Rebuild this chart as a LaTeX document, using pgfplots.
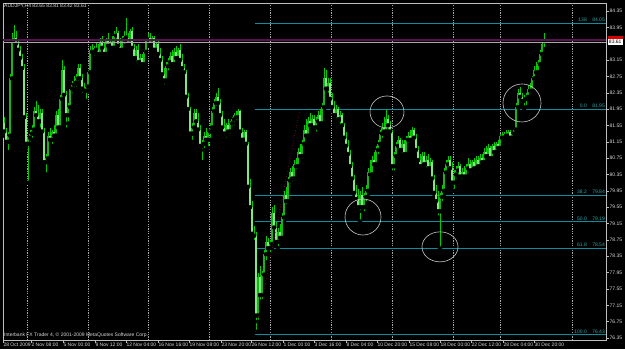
\documentclass[border=0pt]{standalone}
\usepackage{pgfplots}
\usepackage{pgfplotstable}
\pgfplotsset{compat=1.18}
\usepackage{fontspec}
\setmainfont{Liberation Sans}
\definecolor{wickc}{HTML}{00CC00}
\definecolor{bullc}{HTML}{18B418}
\definecolor{bearc}{HTML}{7EEA7E}
\definecolor{fibc}{HTML}{0E8E9C}
\definecolor{fibt}{HTML}{2AA6AA}
\definecolor{framec}{HTML}{BEBEBE}
\definecolor{txtc}{HTML}{DADADA}
\definecolor{magc}{HTML}{581450}
\definecolor{circc}{HTML}{C8C8C8}
\definecolor{trendc}{HTML}{B01030}
\tikzset{fl/.style={anchor=base east, inner sep=0pt, text=fibt, font=\fontsize{5}{6}\selectfont}}
\pgfplotstableread{
i o h l c
1 81.95 82.05 81.55 81.60
2 81.60 81.75 81.30 81.40
3 81.40 81.50 81.05 81.15
4 81.15 81.40 80.90 81.30
5 81.30 82.80 81.25 82.70
6 82.70 83.80 82.60 83.60
7 83.60 84.00 83.45 83.70
8 83.70 83.85 83.50 83.55
9 83.55 83.65 83.30 83.40
10 83.40 83.50 83.10 83.20
11 83.20 83.30 82.90 82.95
12 82.95 83.05 81.70 81.75
13 81.75 81.85 81.00 81.10
14 81.10 81.30 80.15 81.25
15 81.25 81.45 81.10 81.35
16 81.35 81.55 81.20 81.45
17 81.45 82.00 81.35 81.90
18 81.90 82.15 81.70 81.80
19 81.80 82.05 81.55 81.65
20 81.65 81.95 81.45 81.85
21 81.85 81.95 81.35 81.40
22 81.40 81.50 80.55 80.65
23 80.65 80.85 80.35 80.75
24 80.75 81.40 80.70 81.30
25 81.30 81.50 81.10 81.20
26 81.20 81.45 81.05 81.40
27 81.40 81.55 81.20 81.30
28 81.30 81.90 81.25 81.80
29 81.80 81.95 81.40 81.50
30 81.50 82.30 81.45 82.20
31 82.20 83.15 82.10 82.90
32 82.90 83.00 82.20 82.30
33 82.30 82.40 81.45 81.80
34 81.80 82.10 81.60 82.00
35 82.00 82.50 81.90 82.45
36 82.45 82.65 82.30 82.55
37 82.55 82.75 82.40 82.60
38 82.60 82.80 82.45 82.70
39 82.70 83.05 82.55 82.95
40 82.95 83.05 82.60 82.70
41 82.70 82.80 82.30 82.45
42 82.45 82.60 82.30 82.40
43 82.40 82.55 82.15 82.50
44 82.50 82.90 82.40 82.85
45 82.85 83.50 82.80 83.40
46 83.40 83.55 83.25 83.35
47 83.35 83.50 83.20 83.45
48 83.45 83.60 83.30 83.40
49 83.40 83.55 83.25 83.30
50 83.30 83.70 83.20 83.60
51 83.60 83.75 83.35 83.45
52 83.45 83.60 83.20 83.30
53 83.30 83.70 83.25 83.65
54 83.65 83.80 83.45 83.50
55 83.50 83.65 83.35 83.60
56 83.60 83.75 83.40 83.45
57 83.45 83.85 83.40 83.75
58 83.75 83.95 83.60 83.80
59 83.80 83.85 83.45 83.50
60 83.50 83.70 83.30 83.40
61 83.40 83.75 83.35 83.65
62 83.65 83.85 83.50 83.75
63 83.75 84.18 83.60 83.70
64 83.70 83.80 83.45 83.55
65 83.55 83.90 83.50 83.85
66 83.85 83.95 83.35 83.45
67 83.45 83.55 83.15 83.20
68 83.20 83.50 83.05 83.40
69 83.40 83.55 83.00 83.10
70 83.10 83.30 82.95 83.20
71 83.20 83.30 82.95 83.05
72 83.05 83.40 83.00 83.35
73 83.35 83.70 83.30 83.65
74 83.65 83.80 83.50 83.70
75 83.70 83.80 83.50 83.55
76 83.55 83.75 83.45 83.70
77 83.70 83.75 83.35 83.40
78 83.40 83.60 83.30 83.55
79 83.55 83.65 83.25 83.30
80 83.30 83.45 83.05 83.15
81 83.15 83.25 82.70 82.80
82 82.80 82.95 82.50 82.65
83 82.65 83.10 82.60 83.00
84 83.00 83.20 82.85 83.10
85 83.10 83.35 83.00 83.25
86 83.25 83.40 82.95 83.05
87 83.05 83.45 83.00 83.35
88 83.35 83.50 83.15 83.20
89 83.20 83.45 83.05 83.40
90 83.40 83.55 83.10 83.15
91 83.15 83.30 82.85 82.95
92 82.95 83.05 82.75 82.85
93 82.85 82.90 82.20 82.25
94 82.25 82.35 81.85 81.95
95 81.95 82.00 81.25 81.35
96 81.35 81.60 81.15 81.50
97 81.50 81.95 81.45 81.85
98 81.85 81.95 81.55 81.65
99 81.65 81.85 81.35 81.45
100 81.45 81.55 80.95 81.05
101 81.05 81.20 80.65 81.10
102 81.10 81.40 80.95 81.30
103 81.30 81.50 81.10 81.20
104 81.20 81.45 81.00 81.40
105 81.40 81.60 81.20 81.50
106 81.50 82.00 81.45 81.90
107 81.90 82.20 81.80 82.10
108 82.10 82.35 81.95 82.25
109 82.25 82.47 82.00 82.10
110 82.10 82.20 81.70 81.80
111 81.80 81.90 81.40 81.50
112 81.50 81.70 81.25 81.35
113 81.35 81.60 81.20 81.55
114 81.55 81.70 81.30 81.40
115 81.40 81.65 81.30 81.60
116 81.60 81.75 81.45 81.70
117 81.70 81.85 81.50 81.80
118 81.80 81.90 81.60 81.75
119 81.75 81.95 81.65 81.90
120 81.90 81.92 81.35 81.40
121 81.40 81.50 81.10 81.20
122 81.20 81.45 81.10 81.40
123 81.40 81.45 81.05 81.10
124 81.10 81.15 79.95 80.05
125 80.05 80.25 79.45 79.55
126 79.55 79.70 78.80 78.90
127 78.90 79.10 78.70 78.85
128 78.85 78.95 76.50 76.90
129 76.90 77.95 76.75 77.85
130 77.85 78.10 77.20 77.40
131 77.40 78.00 77.25 77.90
132 77.90 78.50 77.80 78.40
133 78.40 78.85 78.20 78.70
134 78.70 78.80 78.45 78.55
135 78.55 78.75 78.40 78.65
136 78.65 79.55 78.55 79.40
137 79.40 79.60 78.95 79.05
138 79.05 79.20 78.60 78.70
139 78.70 79.05 78.55 78.95
140 78.95 79.15 78.70 78.80
141 78.80 79.40 78.75 79.30
142 79.30 79.95 79.20 79.85
143 79.85 80.05 79.55 79.70
144 79.70 80.30 79.60 80.20
145 80.20 80.50 80.00 80.40
146 80.40 80.55 80.10 80.25
147 80.25 80.70 80.15 80.60
148 80.60 80.75 80.40 80.55
149 80.55 81.00 80.45 80.90
150 80.90 81.10 80.70 80.80
151 80.80 81.20 80.70 81.10
152 81.10 81.55 81.00 81.45
153 81.45 81.70 81.20 81.30
154 81.30 81.75 81.25 81.65
155 81.65 81.85 81.45 81.55
156 81.55 81.80 81.40 81.70
157 81.70 81.80 81.45 81.50
158 81.50 81.75 81.35 81.65
159 81.65 81.90 81.55 81.80
160 81.80 81.95 81.55 81.60
161 81.60 82.10 81.55 82.00
162 82.00 82.95 81.95 82.70
163 82.70 82.90 82.35 82.45
164 82.45 82.70 82.30 82.60
165 82.60 82.70 82.10 82.20
166 82.20 82.35 81.90 82.00
167 82.00 82.15 81.70 81.80
168 81.80 82.05 81.65 81.95
169 81.95 82.00 81.60 81.70
170 81.70 81.90 81.50 81.80
171 81.80 81.85 81.45 81.55
172 81.55 81.60 81.15 81.25
173 81.25 81.40 80.95 81.05
174 81.05 81.20 80.75 80.85
175 80.85 80.95 80.45 80.55
176 80.55 80.65 80.20 80.25
177 80.25 80.35 79.80 79.90
178 79.90 80.10 79.65 79.75
179 79.75 80.00 79.45 79.55
180 79.55 79.95 79.20 79.85
181 79.85 80.05 79.45 79.55
182 79.55 79.90 79.40 79.80
183 79.80 80.10 79.65 79.95
184 79.95 80.50 79.85 80.40
185 80.40 80.70 80.25 80.35
186 80.35 80.80 80.30 80.70
187 80.70 80.90 80.50 80.60
188 80.60 81.05 80.55 80.95
189 80.95 81.20 80.80 81.10
190 81.10 81.45 81.00 81.35
191 81.35 81.60 81.20 81.50
192 81.50 81.75 81.35 81.40
193 81.40 81.93 81.35 81.70
194 81.70 81.80 81.40 81.55
195 81.55 81.65 81.30 81.40
196 81.40 81.45 80.40 80.55
197 80.55 80.90 80.40 80.80
198 80.80 81.15 80.70 81.05
199 81.05 81.30 80.90 81.20
200 81.20 81.25 80.85 80.95
201 80.95 81.20 80.80 81.10
202 81.10 81.20 80.75 80.85
203 80.85 81.30 80.80 81.20
204 81.20 81.40 81.05 81.30
205 81.30 81.45 81.10 81.20
206 81.20 81.52 81.15 81.45
207 81.45 81.50 81.15 81.25
208 81.25 81.35 80.85 80.95
209 80.95 81.05 80.60 80.70
210 80.70 80.85 80.45 80.55
211 80.55 80.90 80.45 80.80
212 80.80 80.90 80.50 80.60
213 80.60 80.80 80.40 80.70
214 80.70 80.85 80.45 80.50
215 80.50 80.75 80.40 80.65
216 80.65 80.70 80.15 80.25
217 80.25 80.35 79.80 79.90
218 79.90 80.10 79.60 79.70
219 79.70 79.95 79.30 79.45
220 79.45 79.90 78.54 79.80
221 79.80 80.10 79.65 79.95
222 79.95 80.50 79.85 80.40
223 80.40 80.70 80.30 80.60
224 80.60 80.80 80.45 80.70
225 80.70 80.80 80.40 80.50
226 80.50 80.65 80.05 80.15
227 80.15 80.45 79.95 80.35
228 80.35 80.55 80.20 80.45
229 80.45 80.65 80.30 80.55
230 80.55 80.60 80.20 80.30
231 80.30 80.50 80.15 80.40
232 80.40 80.55 80.20 80.30
233 80.30 80.60 80.25 80.50
234 80.50 80.75 80.35 80.60
235 80.60 80.70 80.35 80.45
236 80.45 80.70 80.40 80.65
237 80.65 80.75 80.40 80.50
238 80.50 80.80 80.45 80.70
239 80.70 80.80 80.50 80.55
240 80.55 80.85 80.45 80.75
241 80.75 80.85 80.55 80.65
242 80.65 81.00 80.60 80.90
243 80.90 81.05 80.70 80.80
244 80.80 81.10 80.70 81.00
245 81.00 81.05 80.70 80.75
246 80.75 81.10 80.70 81.05
247 81.05 81.15 80.80 80.90
248 80.90 81.15 80.85 81.10
249 81.10 81.20 80.90 81.00
250 81.00 81.35 80.95 81.30
251 81.30 81.40 81.15 81.25
252 81.25 81.40 81.15 81.35
253 81.35 81.45 81.20 81.30
254 81.30 81.45 81.25 81.40
255 81.40 81.45 81.20 81.25
256 81.25 81.40 81.20 81.35
257 81.35 81.50 81.30 81.45
258 81.45 82.10 81.40 82.00
259 82.00 82.45 81.95 82.35
260 82.35 82.50 82.15 82.25
261 82.25 82.35 82.05 82.15
262 82.15 82.30 81.95 82.20
263 82.20 82.35 82.00 82.25
264 82.25 82.55 82.20 82.45
265 82.45 82.60 82.30 82.40
266 82.40 82.75 82.35 82.70
267 82.70 83.00 82.60 82.90
268 82.90 83.10 82.75 82.85
269 82.85 83.15 82.80 83.05
270 83.05 83.40 83.00 83.30
271 83.30 83.65 83.20 83.55
272 83.65 83.81 83.42 83.61
}\candles
\begin{document}
\begin{tikzpicture}
\fill[black] (0pt,0pt) rectangle (625pt,-349pt);
\useasboundingbox (0pt,0pt) rectangle (625pt,-349pt);
\begin{axis}[
  at={(3pt,-3pt)}, anchor=north west,
  scale only axis, width=603pt, height=337pt,
  xmin=1.5, xmax=303, ymin=76.301, ymax=84.546,
  clip mode=individual,
  axis line style={draw=framec, line width=0.6pt},
  tick align=outside, major tick length=2.5pt,
  tick style={draw=framec, line width=0.5pt},
  xtick pos=bottom, ytick pos=right, yticklabel pos=right,
  xtick={1.5,15.5,31.5,47.5,63,79,94.5,110.5,125.5,141.5,157,173,188.5,204.5,220,235.5,251.5,267},
  xticklabels={28 Oct 2009,2 Nov 08:00,5 Nov 00:00,9 Nov 12:00,12 Nov 04:00,16 Nov 16:00,19 Nov 08:00,23 Nov 20:00,26 Nov 12:00,1 Dec 00:00,3 Dec 16:00,8 Dec 04:00,10 Dec 20:00,15 Dec 08:00,18 Dec 00:00,22 Dec 12:00,28 Dec 04:00,30 Dec 20:00},
  xticklabel style={anchor=north west, inner sep=0pt, font=\fontsize{5}{6}\selectfont, text=txtc, xshift=0.3pt, yshift=-0.5pt},
  ytick={76.35,76.75,77.15,77.55,77.95,78.35,78.75,79.15,79.55,79.95,80.35,80.75,81.15,81.55,81.95,82.35,82.75,83.15,83.95,84.35},
  yticklabels={76.35,76.75,77.15,77.55,77.95,78.35,78.75,79.15,79.55,79.95,80.35,80.75,81.15,81.55,81.95,82.35,82.75,83.15,83.95,84.35},
  yticklabel style={anchor=west, inner sep=0pt, font=\fontsize{5}{6}\selectfont, text=txtc, xshift=1pt},
  extra x ticks={13.5,44,74,104.5,135,165.5,196,226.5,250,286},
  extra x tick labels={},
  extra x tick style={grid=major, major tick length=0pt},
  major grid style={draw=gray!70, dash pattern=on 1.2pt off 1.2pt, line width=0.5pt},
]
% Fibonacci levels
\addplot[fibc, line width=1.1pt, forget plot] coordinates {(127.5,84.05) (303,84.05)};
\addplot[fibc, line width=1.1pt, forget plot] coordinates {(127.5,81.95) (303,81.95)};
\addplot[fibc, line width=1.1pt, forget plot] coordinates {(127.5,79.84) (303,79.84)};
\addplot[fibc, line width=1.1pt, forget plot] coordinates {(127.5,79.19) (303,79.19)};
\addplot[fibc, line width=1.1pt, forget plot] coordinates {(127.5,78.54) (303,78.54)};
\addplot[fibc, line width=1.1pt, forget plot] coordinates {(127.5,76.43) (303,76.43)};
% wicks
\addplot[only marks, mark=none, forget plot,
  error bars/.cd, y dir=plus, y explicit, error mark=none,
  error bar style={draw=wickc, line width=0.55pt}]
  table[x=i, y=l, y error plus expr=\thisrow{h}-\thisrow{l}] {\candles};
% bull bodies
\addplot[only marks, mark=none, forget plot,
  restrict expr to domain={\thisrow{c}-\thisrow{o}}{0:20},
  error bars/.cd, y dir=plus, y explicit, error mark=none,
  error bar style={draw=bullc, line width=1.5pt}]
  table[x=i, y=o, y error plus expr=\thisrow{c}-\thisrow{o}] {\candles};
% bear bodies
\addplot[only marks, mark=none, forget plot,
  restrict expr to domain={\thisrow{o}-\thisrow{c}}{0:20},
  error bars/.cd, y dir=plus, y explicit, error mark=none,
  error bar style={draw=bearc, line width=1.5pt}]
  table[x=i, y=c, y error plus expr=\thisrow{o}-\thisrow{c}] {\candles};
% trend line of the Fibonacci tool
\addplot[trendc, dotted, line width=0.6pt, forget plot] coordinates {(127.5,76.43) (150,81.95)};
% horizontal lines
\addplot[magc, line width=1.8pt, forget plot] coordinates {(1.5,83.64) (303,83.64)};
\addplot[gray!70, line width=0.6pt, forget plot] coordinates {(1.5,83.585) (303,83.585)};
% circles
\draw[circc, line width=0.6pt] (axis cs:193.5,81.88) ellipse [x radius=17pt, y radius=16pt];
\draw[circc, line width=0.6pt] (axis cs:181.5,79.31) ellipse [x radius=18pt, y radius=18pt];
\draw[circc, line width=0.6pt] (axis cs:220,78.58) ellipse [x radius=18pt, y radius=15pt];
\draw[circc, line width=0.6pt] (axis cs:261,82.10) ellipse [x radius=19pt, y radius=19pt];
% fib labels
\node[fl] at ([xshift=-1pt,yshift=1.5pt]axis cs:303,84.05) {84.05};
\node[fl] at ([xshift=-19pt,yshift=1.5pt]axis cs:303,84.05) {138};
\node[fl] at ([xshift=-1pt,yshift=1.5pt]axis cs:303,81.95) {81.95};
\node[fl] at ([xshift=-19pt,yshift=1.5pt]axis cs:303,81.95) {0.0};
\node[fl] at ([xshift=-1pt,yshift=1.5pt]axis cs:303,79.84) {79.84};
\node[fl] at ([xshift=-19pt,yshift=1.5pt]axis cs:303,79.84) {38.2};
\node[fl] at ([xshift=-1pt,yshift=1.5pt]axis cs:303,79.19) {79.19};
\node[fl] at ([xshift=-19pt,yshift=1.5pt]axis cs:303,79.19) {50.0};
\node[fl] at ([xshift=-1pt,yshift=1.5pt]axis cs:303,78.54) {78.54};
\node[fl] at ([xshift=-19pt,yshift=1.5pt]axis cs:303,78.54) {61.8};
\node[fl] at ([xshift=-1pt,yshift=1.5pt]axis cs:303,76.43) {76.43};
\node[fl] at ([xshift=-19pt,yshift=1.5pt]axis cs:303,76.43) {100.0};
% texts
\node[anchor=north west, inner sep=0pt, text=txtc, font=\fontsize{5}{6}\selectfont] at ([xshift=1pt,yshift=-0.8pt]rel axis cs:0,1) {AUDJPY,H4 83.65 83.81 83.42 83.61};
\node[anchor=base west, inner sep=0pt, text=txtc, font=\fontsize{5}{6}\selectfont] at ([xshift=1pt,yshift=4pt]rel axis cs:0,0) {Interbank FX Trader 4, \textcopyright{} 2001-2009 MetaQuotes Software Corp.};
% price box
\fill[white] ([xshift=1.5pt]axis cs:303,83.51) rectangle ([xshift=17pt]axis cs:303,83.67);
\fill[red!85!black] ([xshift=1.5pt]axis cs:303,83.67) rectangle ([xshift=17pt]axis cs:303,83.74);
\node[anchor=center, inner sep=0pt, text=black, font=\fontsize{5}{6}\selectfont] at ([xshift=9.25pt]axis cs:303,83.59) {83.61};
\end{axis}
\end{tikzpicture}
\end{document}
